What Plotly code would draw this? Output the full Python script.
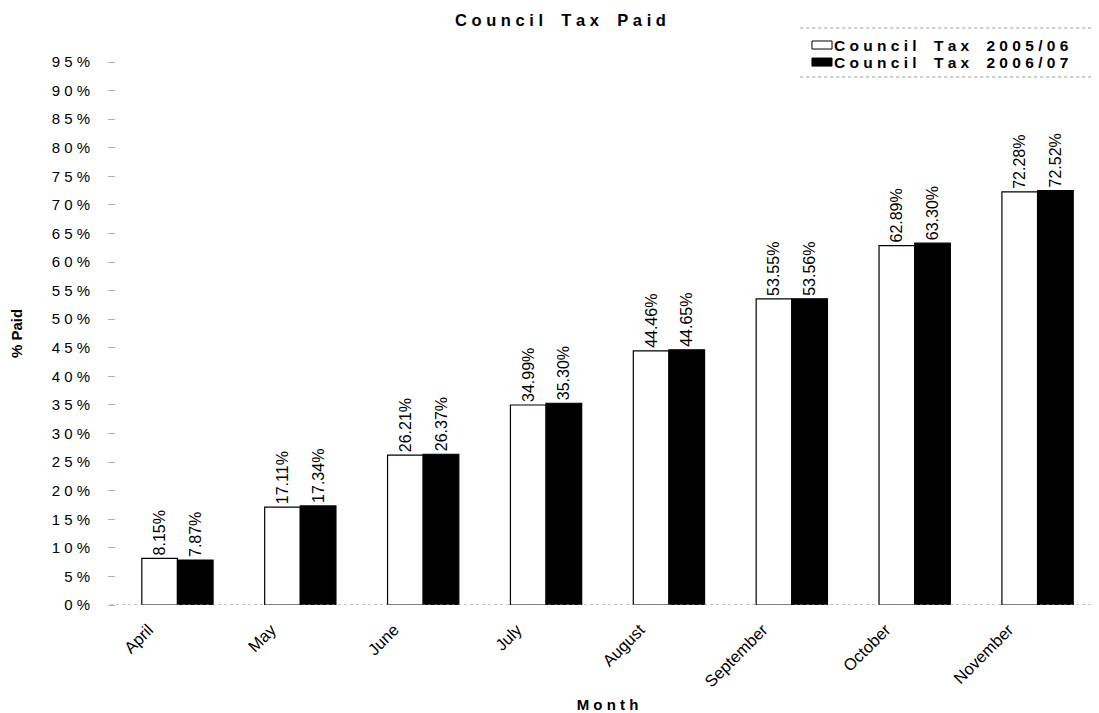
import plotly.graph_objects as go

months = ["April", "May", "June", "July", "August", "September", "October", "November"]
tax_2005 = [8.15, 17.11, 26.21, 34.99, 44.46, 53.55, 62.89, 72.28]
tax_2006 = [7.87, 17.34, 26.37, 35.30, 44.65, 53.56, 63.30, 72.52]
series_names = ["Council Tax 2005/06", "Council Tax 2006/07"]
series_fill = ["white", "black"]
y_ticks = list(range(0, 100, 5))

NB = "\u00a0"


def spaced(s, word_gap=3):
    return NB.join(ch if ch != " " else NB * (word_gap - 1) for ch in s)


font = "Liberation Sans, Arial, sans-serif"

fig = go.Figure()
for name, vals, fill in zip(series_names, [tax_2005, tax_2006], series_fill):
    fig.add_trace(go.Bar(
        x=months, y=vals, name=name,
        marker=dict(color=fill, line=dict(color="black", width=1.2)),
        text=[f"{v:.2f}%" for v in vals], textposition="outside",
        textangle=-90, constraintext="none",
        textfont=dict(size=16, color="black", family=font),
        cliponaxis=False, showlegend=False,
    ))

# page has 8px body margin; compensate
fig.update_layout(
    width=1091, height=705,
    paper_bgcolor="white", plot_bgcolor="white",
    margin=dict(l=108, r=0, t=54, b=108, autoexpand=False),
    barmode="group", bargap=0.42, bargroupgap=0,
    font=dict(family=font, color="black", size=15),
    showlegend=False,
)
fig.update_xaxes(
    showgrid=False, showline=False, zeroline=False,
    tickangle=-45, tickfont=dict(size=16.5, family=font),
    ticklabelshift=-29, ticklabelstandoff=11,
    title=dict(text="<b>" + spaced("Month", 2) + "</b>", font=dict(size=15, family=font), standoff=12),
    ticks="", automargin=False,
)
fig.update_yaxes(
    range=[0, 95], showgrid=False, showline=False, zeroline=False,
    tickvals=y_ticks, ticktext=[spaced(f"{v}%") for v in y_ticks],
    ticks="outside", ticklen=7, tickcolor="#b0b0b0", tickwidth=1,
    ticklabelstandoff=15,
    tickfont=dict(size=15, family=font),
    title=dict(text="<b>% Paid</b>", font=dict(size=15, family=font), standoff=27),
    automargin=False,
)
# baseline
fig.add_shape(type="line", xref="paper", yref="y", x0=-0.006, x1=1, y0=0, y1=0,
              line=dict(color="#888888", width=1, dash="dot"))
# legend frame lines (top/bottom)
fig.add_shape(type="line", xref="paper", yref="paper", x0=0.696, x1=1.0, y0=1.0626, y1=1.0626,
              line=dict(color="#999999", width=1, dash="dot"))
fig.add_shape(type="line", xref="paper", yref="paper", x0=0.696, x1=1.0, y0=0.9724, y1=0.9724,
              line=dict(color="#999999", width=1, dash="dot"))
# legend entries
legend_rows_y = [1.0313, 0.9999]
for name, fill, ly in zip(series_names, series_fill, legend_rows_y):
    fig.add_shape(type="rect", xref="paper", yref="paper",
                  x0=0.708, x1=0.7284, y0=ly - 0.0074, y1=ly + 0.0074,
                  fillcolor=fill, line=dict(color="black", width=1))
    fig.add_annotation(
        text="<b>" + spaced(name) + "</b>",
        xref="paper", yref="paper", x=0.7284, y=ly, xanchor="left", yanchor="middle",
        showarrow=False, font=dict(size=15.5, family=font),
    )
fig.add_annotation(
    text="<b>" + spaced("Council Tax Paid") + "</b>",
    xref="paper", yref="paper", x=0.452, y=1.0773, xanchor="center", yanchor="middle",
    showarrow=False, font=dict(size=16.5, family=font),
)

fig.write_html("out.html")
